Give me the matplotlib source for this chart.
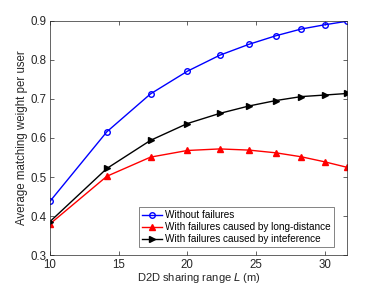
import numpy as np
import matplotlib
matplotlib.use("Agg")
import matplotlib.pyplot as plt

L = [10, 14.14, 17.32, 20, 22.36, 24.49, 26.46, 28.28, 30, 31.62]
no_fail = [0.438, 0.616, 0.713, 0.771, 0.812, 0.840, 0.862, 0.879, 0.890, 0.899]
long_dist = [0.380, 0.502, 0.551, 0.568, 0.572, 0.569, 0.562, 0.552, 0.539, 0.525]
interf = [0.386, 0.522, 0.594, 0.637, 0.663, 0.682, 0.696, 0.706, 0.710, 0.714]

plt.rcParams['font.family'] = ['Liberation Sans', 'DejaVu Sans']
fig = plt.figure(figsize=(3.82, 2.86), dpi=100)
ax = fig.add_axes([0.131, 0.108, 0.777, 0.819])

ax.plot(L, no_fail, color="#0000ff", marker="o", ms=4, mfc="none", mew=1,
        lw=1, label="Without failures")
ax.plot(L, long_dist, color="#ff0000", marker="^", ms=4.5, lw=1,
        label="With failures caused by long-distance")
ax.plot(L, interf, color="#000000", marker=">", ms=4.5, lw=1,
        label="With failures caused by inteference")

ax.set_xlim(10, 31.62)
ax.set_ylim(0.3, 0.9)
ax.set_xticks([10, 15, 20, 25, 30])
ax.set_yticks(np.arange(0.3, 0.91, 0.1))
ax.tick_params(direction="in", top=True, right=True, labelsize=8.3,
               colors="#262626", length=3, width=0.5, pad=2.5)
for s in ax.spines.values():
    s.set_color("#262626")
    s.set_linewidth(0.5)
ax.set_xlabel("D2D sharing range $L$ (m)", fontsize=8, color="#262626", labelpad=0.5)
ax.set_ylabel("Average matching weight per user", fontsize=8.3, color="#262626", labelpad=2)

leg = ax.legend(loc="lower right", bbox_to_anchor=(0.956, 0.034), borderaxespad=0,
                fontsize=7.2, frameon=True, fancybox=False,
                edgecolor="#262626", handlelength=2.0, handletextpad=0.3,
                borderpad=0.3, labelspacing=0.2)
leg.get_frame().set_linewidth(0.5)

fig.savefig("out.png", dpi=100)
